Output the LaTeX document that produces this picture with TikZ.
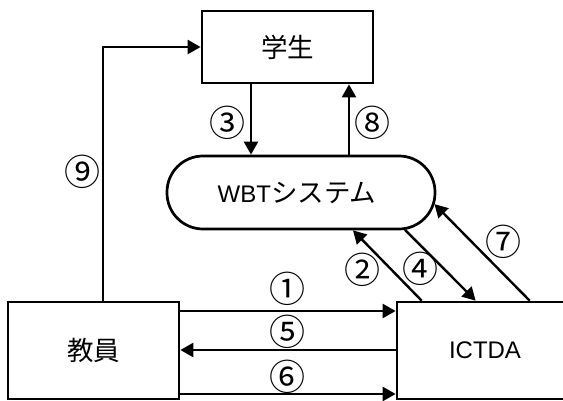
\documentclass[tikz,border=0pt]{standalone}
\usepackage{fontspec}
\setmainfont{Liberation Sans}
\newfontfamily\cjk{Noto Sans CJK JP}
\newcommand{\jp}[1]{{\cjk\fontsize{26.5pt}{26.5pt}\selectfont #1}}
\usetikzlibrary{arrows.meta}
\begin{document}
\begin{tikzpicture}[x=1pt,y=-1pt,
  box/.style={draw, line width=2.7pt, inner sep=0pt,
    font=\fontsize{24pt}{24pt}\selectfont},
  rbox/.style={box, rounded corners=36pt},
  arr/.style={line width=2.4pt, -{Triangle[length=13pt,width=14pt]}},
  lab/.style={inner sep=0pt, font=\cjk\fontsize{36pt}{36pt}\selectfont}]
\useasboundingbox (0,0) rectangle (563,401);
\clip (0,0) rectangle (563,401);
\node[box, minimum width=171pt, minimum height=72pt] (student) at (287.5,47) {\jp{学生}};
\node[rbox, minimum width=268pt, minimum height=73pt] (wbt) at (301,192.5) {\hspace*{-8pt}WBT\jp{システム}};
\node[box, minimum width=171pt, minimum height=97pt] (teacher) at (93.5,350.5) {\jp{教員}};
\node[box, minimum width=176pt, minimum height=97pt] (ictda) at (485,350.5) {ICTDA};
% connectors
\draw[arr] ([xshift=9.5pt]teacher.north) |- (student.west);
\draw[arr] ([xshift=-36.5pt]student.south) -- ([xshift=-50pt]wbt.north);
\draw[arr] ([xshift=48pt]wbt.north) -- ([xshift=61.5pt]student.south);
\draw[arr] ([yshift=39.5pt]teacher.east) -- ([yshift=39.5pt]ictda.west);
\draw[arr] ([yshift=0.5pt]ictda.west) -- ([yshift=0.5pt]teacher.east);
\draw[arr] ([yshift=-43.5pt]teacher.east) -- ([yshift=-43.5pt]ictda.west);
\draw[arr] ([xshift=26pt]ictda.north west) -- ([xshift=52pt]wbt.south);
\draw[arr] ([xshift=104pt,yshift=0.5pt]wbt.south) -- ([xshift=80pt]ictda.north west);
\draw[arr] ([xshift=134pt]ictda.north west) -- ([xshift=-1.9pt,yshift=-11.6pt]wbt.east);
% labels
\node[lab] (l1) at (287,289) {①};
\node[lab] (l2) at (362,270) {②};
\node[lab] (l3) at (227,123) {③};
\node[lab] (l4) at (420,269) {④};
\node[lab] (l5) at (287,332) {⑤};
\node[lab] (l6) at (287,377) {⑥};
\node[lab] (l7) at (503,242) {⑦};
\node[lab] (l8) at (372,123) {⑧};
\node[lab] (l9) at (82,172) {⑨};
\end{tikzpicture}
\end{document}
